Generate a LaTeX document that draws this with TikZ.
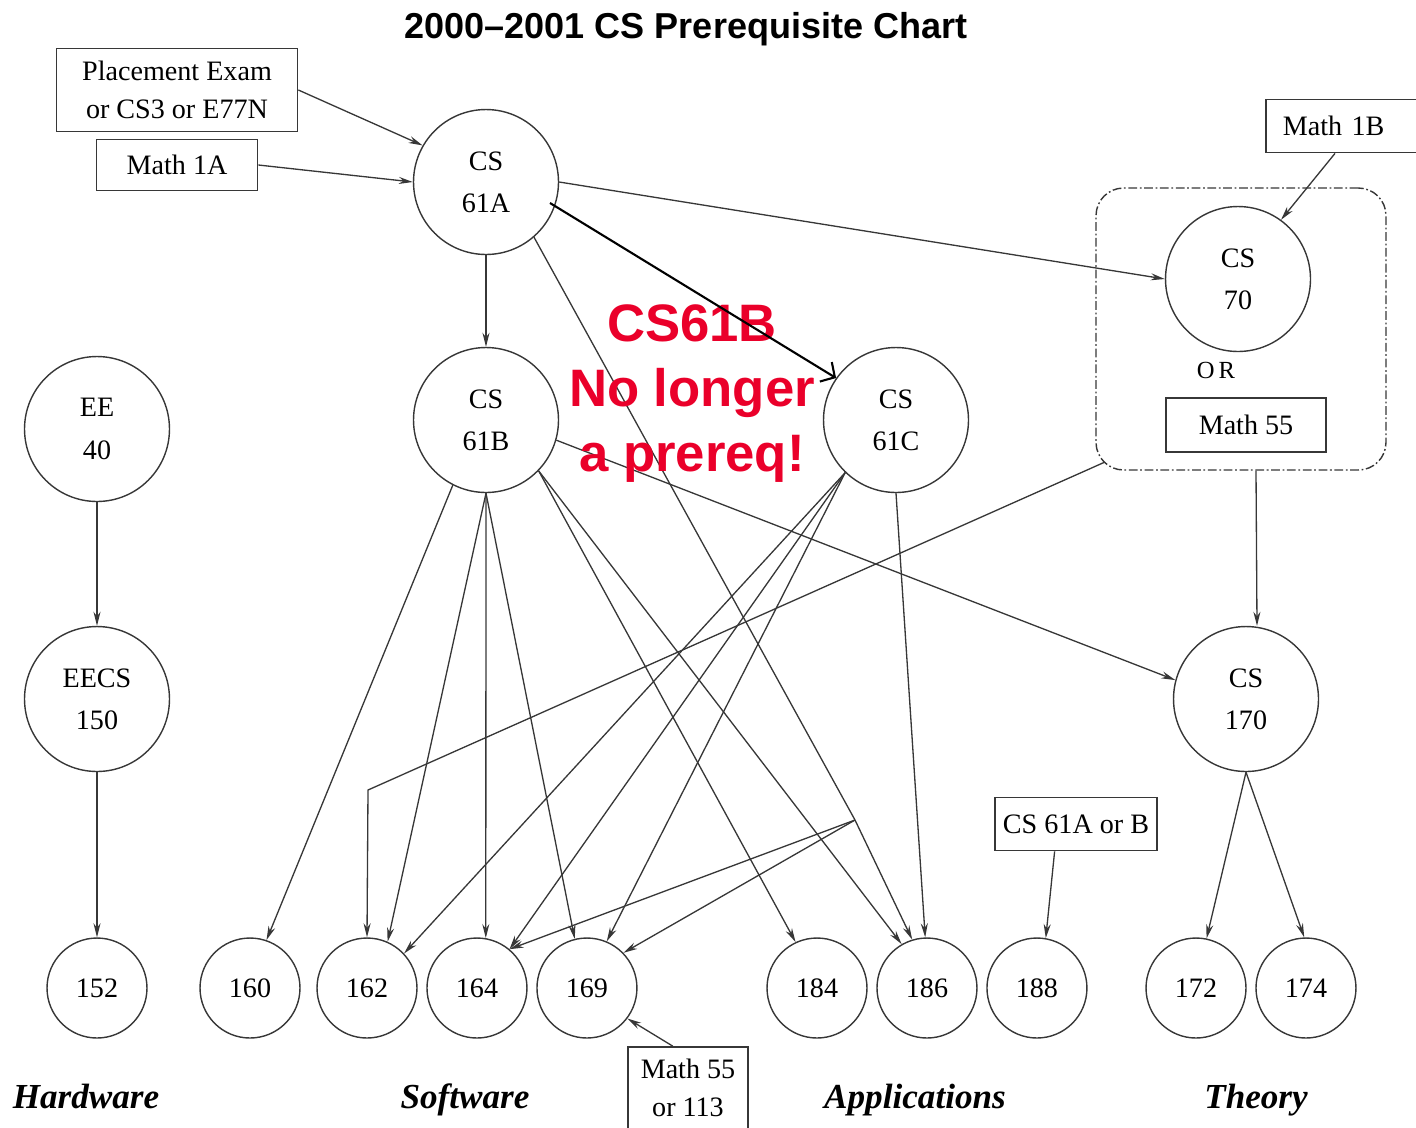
\documentclass[tikz,border=0pt]{standalone}
\usepackage{fontspec}
\setmainfont{Liberation Serif}
\newfontfamily\headfont[Ligatures=TeX]{Liberation Sans}
\usetikzlibrary{arrows.meta,positioning}
\definecolor{alertred}{RGB}{234,0,42}
\definecolor{inkgray}{RGB}{55,55,55}

\begin{document}
\begin{tikzpicture}[%
        x=0.02cm, y=-0.02cm,
        >={Stealth[length=8pt,width=4pt]},
        node distance=2.2cm,
        on grid,
        course/.style={circle, draw=inkgray, line width=0.8pt, minimum size=2.9cm,
            inner sep=0pt, align=center, font=\fontsize{16}{24}\selectfont},
        elective/.style={course, minimum size=2cm},
        prereq/.style={rectangle, draw=inkgray, line width=1pt, inner sep=0pt,
            align=center, font=\fontsize{16}{22}\selectfont},
        trackname/.style={anchor=base, font=\fontsize{20}{24}\selectfont\bfseries\itshape},
        wire/.style={color=inkgray, line width=0.75pt}
        ]
        \useasboundingbox (0,0) rectangle (1416,1127);

        \node[font=\headfont\bfseries\fontsize{20.5}{24}\selectfont] (title) at (686,29) {2000--2001 CS Prerequisite Chart};

        % lower division
        \node[prereq, minimum width=4.82cm, minimum height=1.66cm] (place) at (177,90) {Placement Exam\\or CS3 or E77N};
        \node[prereq, minimum width=3.22cm, minimum height=1.02cm] (math1a) at (177,165) {Math 1A};
        \node[course] (cs61a) at (486,182) {CS\\61A};
        \node[course] (cs61b) at (486,420) {CS\\61B};
        \node[course] (cs61c) at (896,420) {CS\\61C};
        \node[course] (ee40) at (97,429) {EE\\40};
        \node[course] (eecs150) at (97,699) {EECS\\150};

        % theory block
        \node[prereq, anchor=west, text width=2.72cm, align=left, inner xsep=0.34cm,
            minimum height=1.06cm] (math1b) at (1265,126) {Math 1B};
        \node[draw=inkgray, line width=0.8pt, dash pattern=on 5pt off 1.5pt on 1pt off 1.5pt,
            rounded corners=0.55cm, minimum width=5.8cm, minimum height=5.64cm] (orbox) at (1241,329) {};
        \node[course] (cs70) at (1238,279) {CS\\70};
        \node[font=\fontsize{14}{16}\selectfont] (ortext) at (1216,370) {O\,R};
        \node[prereq, minimum width=3.2cm, minimum height=1.08cm] (math55) at (1246,425) {Math 55};
        \node[course] (cs170) at (1246,699) {CS\\170};
        \node[prereq, minimum width=3.24cm, minimum height=1.06cm] (cs61ab) at (1076,824) {CS 61A or B};

        % upper division
        \node[elective] (c152) at (97,988) {152};
        \node[elective] (c160) at (250,988) {160};
        \node[elective] (c162) at (367,988) {162};
        \node[elective] (c164) [right of=c162] {164};
        \node[elective] (c169) [right of=c164] {169};
        \node[elective] (c184) at (817,988) {184};
        \node[elective] (c186) [right of=c184] {186};
        \node[elective] (c188) [right of=c186] {188};
        \node[elective] (c172) at (1196,988) {172};
        \node[elective] (c174) [right of=c172] {174};
        \node[prereq, minimum width=2.4cm, minimum height=1.64cm] (m55b) at (688,1088) {Math 55\\or 113};

        \node[trackname] (hw) at (86,1108) {Hardware};
        \node[trackname] (sw) at (465,1108) {Software};
        \node[trackname] (apps) at (915,1108) {Applications};
        \node[trackname] (thy) at (1256,1108) {Theory};

        \coordinate (junc) at (855,820);
        \coordinate (orcorner) at (1105,462);
        \coordinate (kink) at (368,790);
        \coordinate (strike) at (550,203);

        \path[->, wire] (place.east) edge (cs61a.150);
        \path[->, wire] (math1a.east) edge (cs61a.west);
        \path[->, wire] (cs61a.east) edge (cs70.west);
        \path[->, wire] (cs61a.south) edge (cs61b.north);
        \path[->, wire] (math1b.south west) ++(70,0) edge (cs70.54);
        \path[->, wire] (cs61b.243) edge (c160.71);
        \path[->, wire] (cs61b.south) edge (c162.66);
        \path[->, wire] (cs61b.south) edge (c164.80);
        \path[->, wire] (cs61b.south) edge (c169.104);
        \path[->, wire] (cs61b.316) edge (c184.115);
        \path[->, wire] (cs61b.316) edge (c186.120);
        \path[->, wire] (cs61b.344) edge (cs170.165);
        \path[->, wire] (cs61c.226) edge (c162.43);
        \path[->, wire] (cs61c.226) edge (c164.50);
        \path[->, wire] (cs61c.226) edge (c169.67);
        \path[->, wire] (cs61c.south) edge (c186.92);
        \draw[wire] (cs61a.311) -- (junc);
        \path[->, wire] (junc) edge (c186.107);
        \path[->, wire] (junc) edge (c164.50);
        \path[->, wire] (junc) edge (c169.44);
        \draw[->, wire] (orcorner) -- (kink) -- (c162.north);
        \path[->, wire] ([xshift=0.3cm]orbox.south) edge ([xshift=0.22cm]cs170.north);
        \path[->, wire] (cs170.south) edge (c172.78);
        \path[->, wire] (cs170.south) edge (c174.92);
        \path[->, wire] (cs61ab.232) edge (c188.80);
        \path[->, wire] (ee40.south) edge (eecs150.north);
        \path[->, wire] (eecs150.south) edge (c152.north);
        \path[->, wire] (m55b.110) edge (c169.323);

        % note added later
        \node[font=\headfont\bfseries\fontsize{30}{37}\selectfont, text=alertred, align=center] (note) at (692,394) {CS61B\\No longer\\a prereq!};
        \draw[black, line width=1.2pt, -{Straight Barb[length=6pt,width=13pt]}] (strike) -- (cs61c.145);

    \end{tikzpicture}
\end{document}
